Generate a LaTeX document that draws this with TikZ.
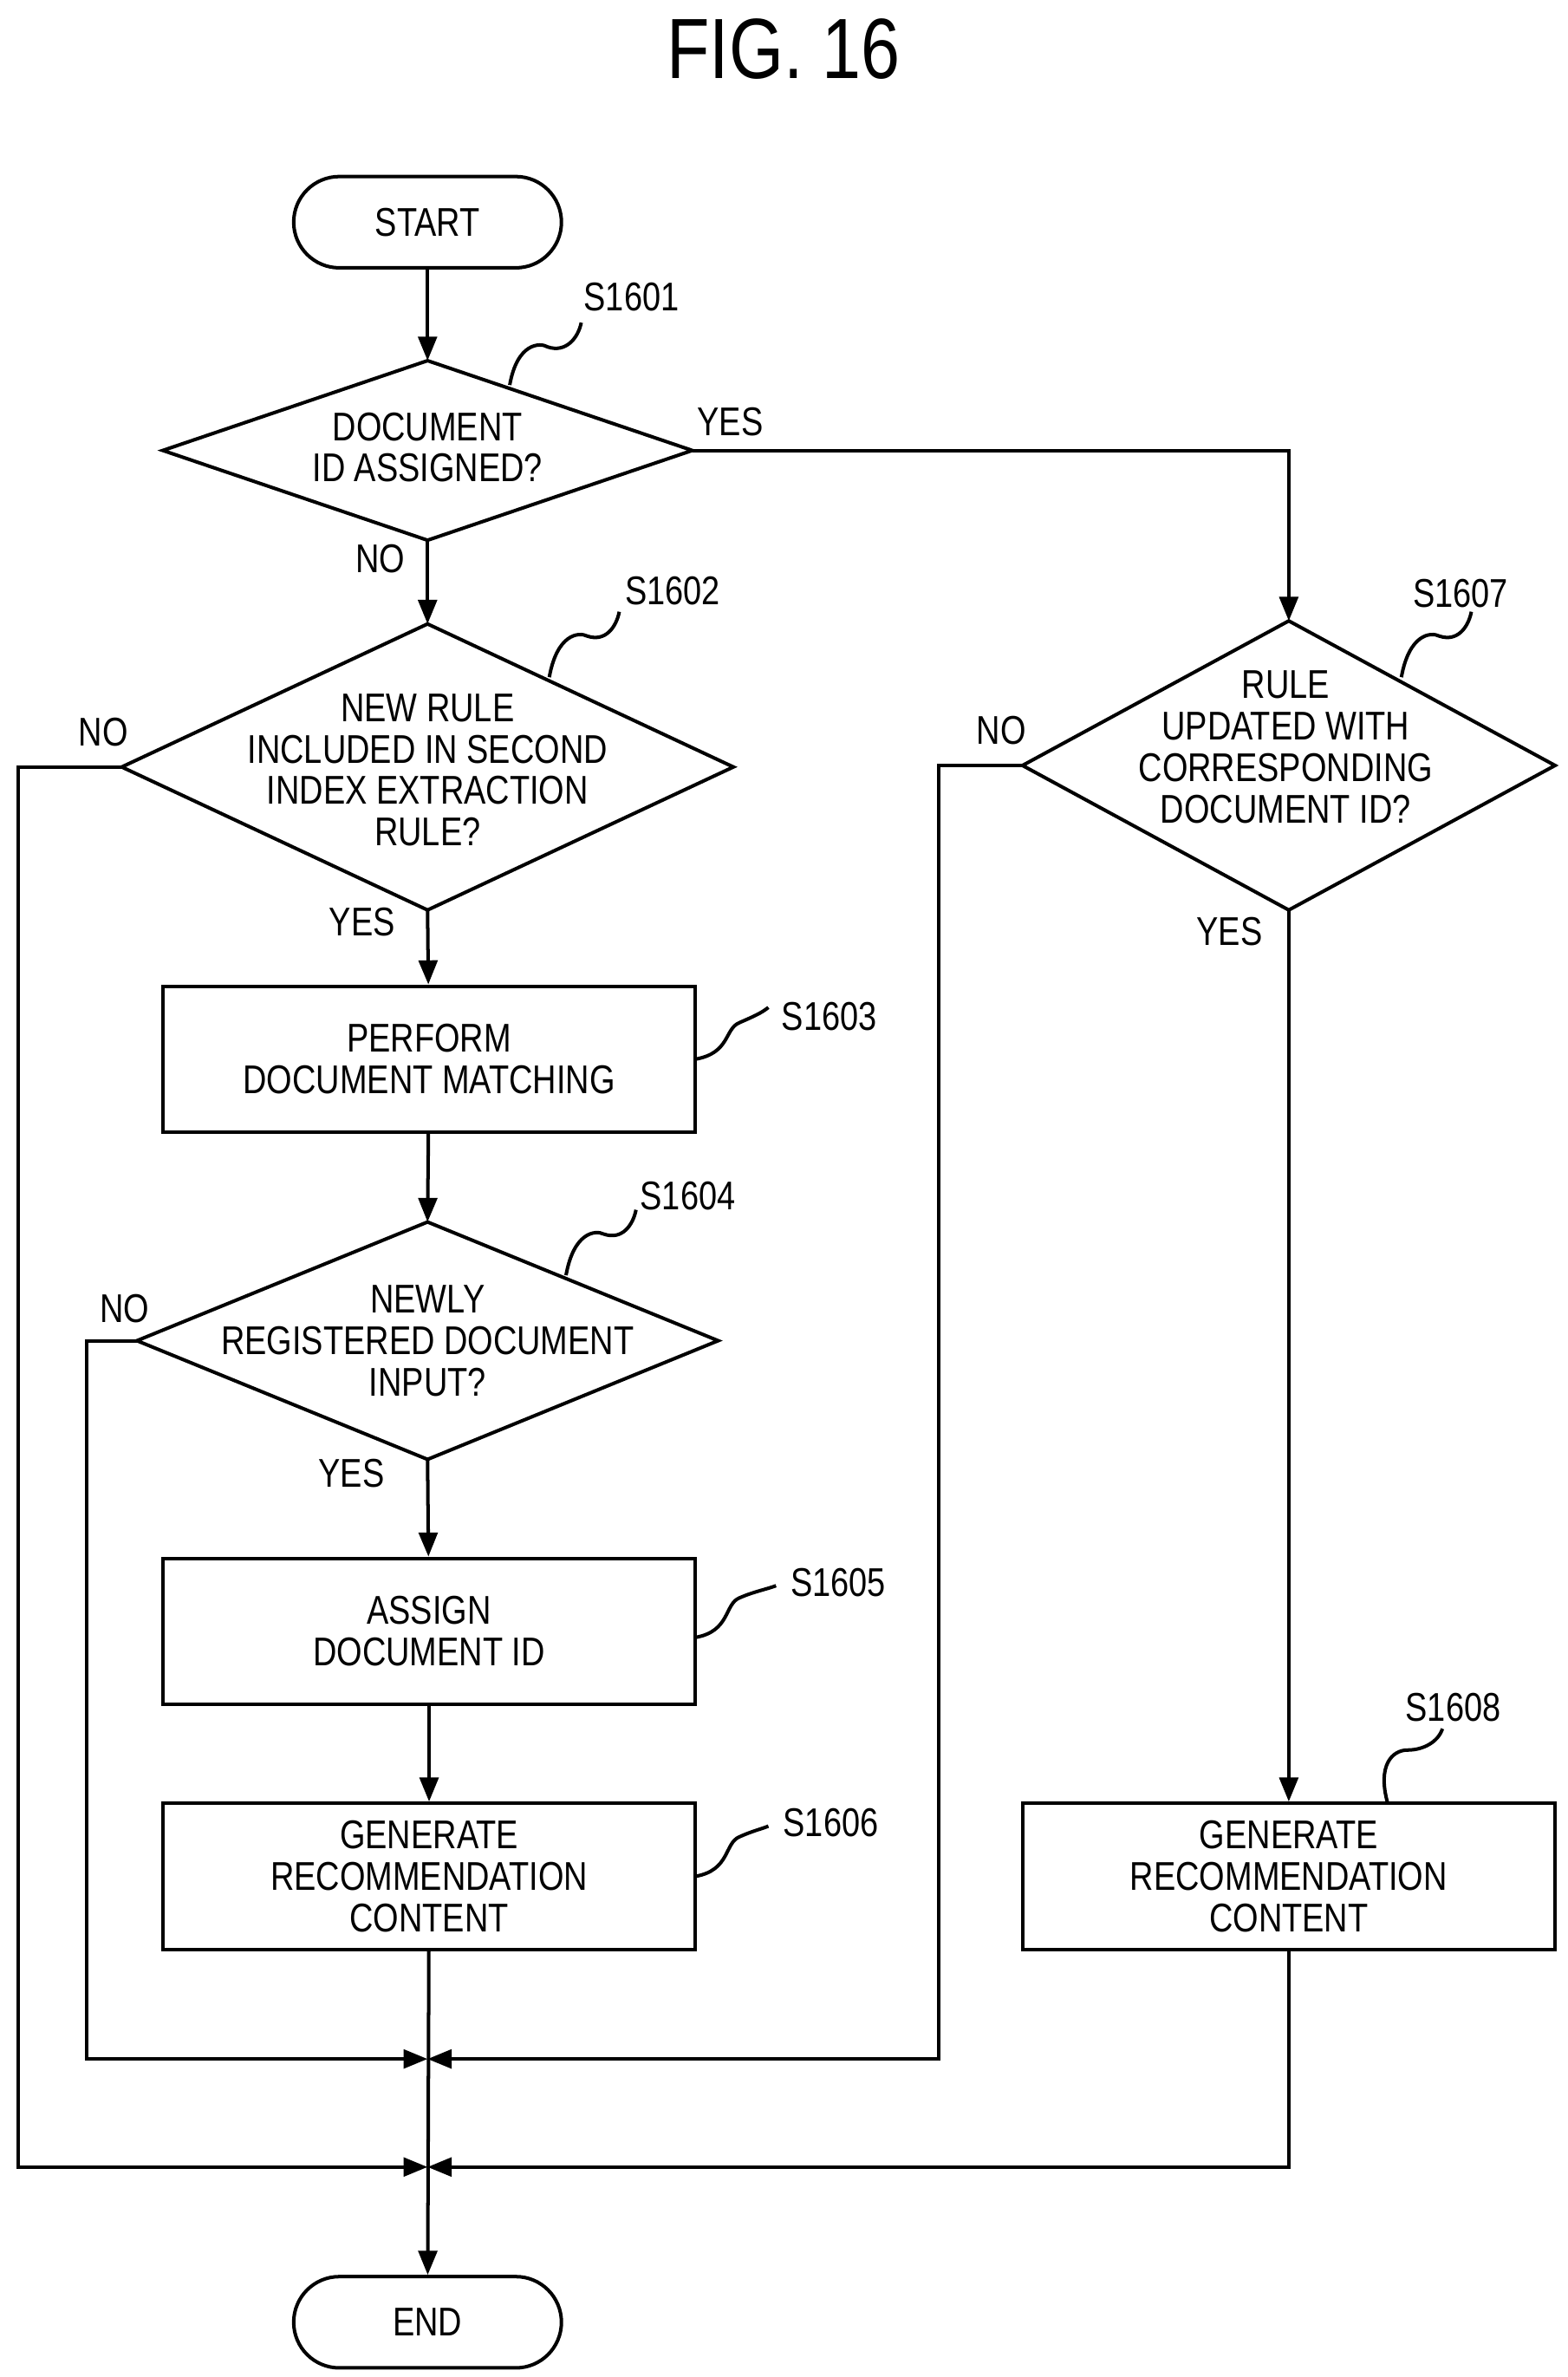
\documentclass[tikz,border=0pt]{standalone}
\usepackage{fontspec}
\setmainfont[FakeStretch=0.82]{Liberation Sans}
\usetikzlibrary{arrows.meta}
\newcommand\mydia[5]{%
  \coordinate (#1l) at (#2-#4,#3); \coordinate (#1r) at (#2+#4,#3);
  \coordinate (#1t) at (#2,#3-#5); \coordinate (#1b) at (#2,#3+#5);
  \draw[ln] (#1l) -- (#1t) -- (#1r) -- (#1b) -- cycle;}
\begin{document}
\begin{tikzpicture}[x=0.02cm,y=-0.02cm,
  ln/.style={line width=1.3pt},
  arr/.style={ln,-{Triangle[length=9pt,width=7pt]}},
  txt/.style={align=center,font=\fontsize{15}{15.5}\selectfont,inner sep=0pt},
  lab/.style={font=\fontsize{15}{15.5}\selectfont,inner sep=0pt},
  box/.style={ln,draw,minimum width=7cm,minimum height=1.92cm,align=center,font=\fontsize{15}{15.5}\selectfont,inner sep=0pt},
  term/.style={ln,draw,rounded corners=0.6cm,minimum width=3.52cm,minimum height=1.2cm,font=\fontsize{15}{15.5}\selectfont}]
\useasboundingbox (0,0) rectangle (1030,1562);
\node[font=\fontsize{32}{34}\selectfont] (title) at (515,32) {FIG.\ 16};
\node[term] (start) at (281,146) {START};
\node[term] (end) at (281,1526) {END};
\mydia{da}{281}{296}{174}{59}
\node[txt] (ta) at (281,294) {DOCUMENT\\ID ASSIGNED?};
\mydia{db}{281}{504}{201}{94}
\node[txt] (tb) at (281,506) {NEW RULE\\INCLUDED IN SECOND\\INDEX EXTRACTION\\RULE?};
\node[box] (b3) at (282,696) {PERFORM\\DOCUMENT MATCHING};
\mydia{dc}{281}{881}{191}{78}
\node[txt] (tc) at (281,881) {NEWLY\\REGISTERED DOCUMENT\\INPUT?};
\node[box] (b5) at (282,1072) {ASSIGN\\DOCUMENT ID};
\node[box] (b6) at (282,1233) {GENERATE\\RECOMMENDATION\\CONTENT};
\mydia{dd}{847}{503}{175}{95}
\node[txt] (td) at (845,491) {RULE\\UPDATED WITH\\CORRESPONDING\\DOCUMENT ID?};
\node[box] (b8) at (847,1233) {GENERATE\\RECOMMENDATION\\CONTENT};
\coordinate (m1) at (281,1353); \coordinate (m2) at (281,1424);
% main flow
\draw[arr] (start) -- (dat);
\draw[arr] (dab) -- (dbt);
\draw[arr] (dbb) -- (b3);
\draw[arr] (b3) -- (dct);
\draw[arr] (dcb) -- (b5);
\draw[arr] (b5) -- (b6);
\draw[arr] (b6) -- (end);
\draw[arr] (dar) -| (ddt);
\draw[arr] (ddb) -- (b8);
\draw[arr] (dbl) -- (12,504) -- (12,1424) -- (m2);
\draw[arr] (dcl) -- (57,881) -- (57,1353) -- (m1);
\draw[arr] (ddl) -- (617,503) -- (617,1353) -- (m1);
\draw[arr] (b8.south) -- (847,1424) -- (m2);
% yes/no
\node[lab] (y1) at (480,277) {YES};
\node[lab] (n1) at (250,367) {NO};
\node[lab] (n2) at (68,481) {NO};
\node[lab] (y2) at (238,606) {YES};
\node[lab] (n3) at (82,860) {NO};
\node[lab] (y3) at (231,968) {YES};
\node[lab] (n4) at (658,480) {NO};
\node[lab] (y4) at (808,612) {YES};
% step labels
\node[lab] (s1) at (415,195) {S1601};
\node[lab] (s2) at (442,388) {S1602};
\node[lab] (s3) at (545,668) {S1603};
\node[lab] (s4) at (452,786) {S1604};
\node[lab] (s5) at (551,1040) {S1605};
\node[lab] (s6) at (546,1198) {S1606};
\node[lab] (s7) at (960,390) {S1607};
\node[lab] (s8) at (955,1122) {S1608};
\draw[ln] (335,253) .. controls (340,225) and (355,225) .. (360,228) .. controls (372,232) and (380,222) .. (382,212);
\draw[ln] (361,445) .. controls (366,417) and (380,415) .. (386,418) .. controls (398,422) and (405,412) .. (407,402);
\draw[ln] (457,696) .. controls (480,692) and (476,676) .. (486,672) .. controls (495,668) and (500,666) .. (505,662);
\draw[ln] (372,838) .. controls (377,810) and (391,808) .. (397,811) .. controls (409,815) and (416,805) .. (418,795);
\draw[ln] (457,1076) .. controls (480,1072) and (476,1054) .. (486,1050) .. controls (495,1046) and (505,1044) .. (510,1042);
\draw[ln] (457,1233) .. controls (480,1229) and (476,1211) .. (486,1207) .. controls (495,1203) and (500,1202) .. (505,1200);
\draw[ln] (921,445) .. controls (926,417) and (940,415) .. (946,418) .. controls (958,422) and (965,412) .. (967,402);
\draw[ln] (912,1185) .. controls (905,1160) and (915,1150) .. (925,1150) .. controls (935,1150) and (945,1145) .. (948,1136);
\end{tikzpicture}
\end{document}
